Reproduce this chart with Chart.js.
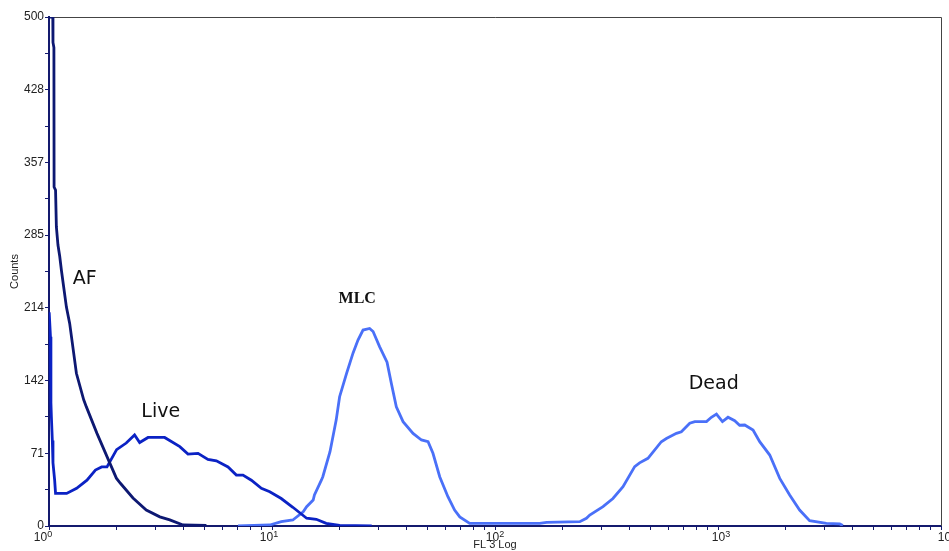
<!DOCTYPE html>
<html>
<head>
<meta charset="utf-8">
<script src="https://cdn.jsdelivr.net/npm/chart.js@4/dist/chart.umd.min.js"></script>
<style>
  html, body { margin: 0; padding: 0; background: #fff; }
  #wrap { width: 949px; height: 551px; }
</style>
</head>
<body>
<div id="wrap"><canvas id="histo"></canvas></div>
<script>
// FL3 log histogram values
const afX = [1.0, 1.04, 1.042, 1.052, 1.054, 1.07, 1.079, 1.097, 1.117, 1.137, 1.197, 1.238, 1.327, 1.431, 1.471, 1.641, 1.872, 2.005, 2.09, 2.38, 2.73, 3.14, 3.48, 3.99, 5.08];
const afY = [500, 500, 475, 470, 333, 330, 294, 276, 265, 251, 215, 199, 150, 124, 117, 91, 62, 47, 42, 27.5, 15.7, 9, 6, 1, 0.5];

const liveX = [1.002, 1.015, 1.02, 1.025, 1.035, 1.042, 1.06, 1.07, 1.2, 1.33, 1.48, 1.615, 1.723, 1.82, 2.01, 2.22, 2.42, 2.55, 2.78, 3.3, 3.86, 4.2, 4.66, 5.16, 5.63, 6.35, 6.92, 7.41, 8.08, 8.96, 9.77, 11.0, 12.4, 14.3, 15.8, 17.5, 20.1, 28];
const liveY = [210, 186, 121, 107, 84, 62, 45, 32, 32, 37, 45, 55, 58, 58, 75, 81.5, 89.4, 82, 87, 87, 78, 70.7, 71.4, 65.5, 64, 58, 50, 50, 45, 37, 33.7, 27, 18.4, 7.6, 6.6, 2.6, 0.5, 0];

const mlcX = [7.04, 9.77, 11.0, 12.4, 13.8, 14.3, 15.3, 15.5, 16.65, 16.9, 18.2, 19.4, 20.1, 21.6, 23.1, 24.3, 25.6, 27.4, 28.4, 30.4, 32.8, 34.3, 36.1, 38.7, 42.9, 46.8, 50.1, 52.7, 56.5, 61.5, 65.9, 69.5, 77.0];
const mlcY = [0, 1, 4.2, 5.9, 14, 19, 25.5, 30.5, 45, 48.4, 73, 104, 127, 150, 170, 182.7, 192.5, 194, 191, 176, 161, 140, 117, 102.5, 91, 84.5, 82.8, 71.4, 48.4, 28.8, 15.7, 9, 2.6];

const deadX = [158.5, 170.5, 240, 257, 266, 305, 338, 375, 423, 445, 485, 557, 587, 651, 685, 747, 787, 888, 934, 984, 1047, 1109, 1188, 1250, 1318, 1436, 1538, 1706, 1892, 2096, 2323, 2576, 3063, 3514, 3630];
const deadY = [2.6, 3.5, 4.2, 7.6, 10.8, 19, 27, 38.6, 58.3, 62, 66.5, 82.8, 86, 91, 92.6, 101, 102.5, 102.5, 106.8, 110, 102.5, 106.8, 103.4, 99, 99.2, 94.3, 82.8, 69.7, 46.8, 30.5, 15.7, 5.2, 2.6, 2, 0.5];

const yTickLabels = ["0", "71", "142", "214", "285", "357", "428", "500"];
const xTickExponents = ["0", "1", "2", "3", "4"];

const peakNames = ["AF", "Live", "MLC", "Dead"];
const peakNameX = [1.446, 3.17, 24.1, 957];
const peakNameY = [242.6, 111.5, 223.5, 139.5];

const axisColor = "#141a6e";

function toPoints(xs, ys) {
  return xs.map((x, i) => ({ x: x, y: ys[i] }));
}

// thin frame on top and right, decade labels with superscripts, peak names
const framePlugin = {
  id: "frame",
  beforeDatasetsDraw(chart) {
    const { ctx, chartArea } = chart;
    ctx.save();
    ctx.strokeStyle = "#444";
    ctx.lineWidth = 1;
    ctx.beginPath();
    ctx.moveTo(chartArea.left, chartArea.top + 0.5);
    ctx.lineTo(chartArea.right + 0.5, chartArea.top + 0.5);
    ctx.lineTo(chartArea.right + 0.5, chartArea.bottom);
    ctx.stroke();
    ctx.restore();
  },
  afterDatasetsDraw(chart) {
    const { ctx, scales, chartArea } = chart;
    ctx.save();
    ctx.fillStyle = "#111";
    ctx.textAlign = "center";
    ctx.textBaseline = "middle";
    peakNames.forEach((name, i) => {
      ctx.font = name === "MLC" ? "bold 16px 'Liberation Serif'" : "19px 'DejaVu Sans'";
      ctx.fillText(name, scales.x.getPixelForValue(peakNameX[i]), scales.y.getPixelForValue(peakNameY[i]));
    });

    // x decade labels: 10 with a raised exponent
    ctx.fillStyle = "#222";
    ctx.textAlign = "left";
    ctx.textBaseline = "alphabetic";
    const base = chartArea.bottom + 15;
    xTickExponents.forEach((e, i) => {
      ctx.font = "12px 'Liberation Sans', Arial";
      const w10 = ctx.measureText("10").width;
      ctx.font = "9px 'Liberation Sans', Arial";
      const wE = ctx.measureText(e).width;
      const cx = scales.x.getPixelForValue(Math.pow(10, i)) + (i - 2) * 3;
      const left = cx - (w10 + wE) / 2;
      ctx.font = "12px 'Liberation Sans', Arial";
      ctx.fillText("10", left, base);
      ctx.font = "9px 'Liberation Sans', Arial";
      ctx.fillText(e, left + w10, base - 4);
    });

    ctx.font = "11px 'Liberation Sans', Arial";
    ctx.textAlign = "center";
    ctx.fillText("FL 3 Log", (chartArea.left + chartArea.right) / 2, chartArea.bottom + 22);
    ctx.restore();
  },
};

const ctx = document.getElementById("histo").getContext("2d");
new Chart(ctx, {
  type: "line",
  data: {
    datasets: [
      {
        label: "AF",
        data: toPoints(afX, afY),
        borderColor: "#0d1872",
        borderWidth: 2.8,
      },
      {
        label: "Live",
        data: toPoints(liveX, liveY),
        borderColor: "#0b22c4",
        borderWidth: 2.8,
      },
      {
        label: "MLC / Dead",
        data: toPoints(mlcX.concat(deadX), mlcY.concat(deadY)),
        borderColor: "#4a70f8",
        borderWidth: 2.8,
      },
    ],
  },
  options: {
    responsive: true,
    maintainAspectRatio: false,
    animation: false,
    layout: { padding: { left: 0, top: 17, right: 8, bottom: 0 } },
    elements: {
      point: { radius: 0 },
      line: { tension: 0 },
    },
    plugins: {
      legend: { display: false },
      tooltip: { enabled: false },
    },
    scales: {
      x: {
        type: "logarithmic",
        min: 1,
        max: 10000,
        afterBuildTicks(scale) {
          const ticks = [];
          for (let d = 0; d < 4; d++) {
            for (let m = 1; m < 10; m++) ticks.push({ value: m * Math.pow(10, d) });
          }
          ticks.push({ value: 10000 });
          scale.ticks = ticks;
        },
        afterFit(scale) {
          scale.height = 25;
          scale.paddingLeft = 0;
          scale.paddingRight = 0;
        },
        ticks: {
          autoSkip: false,
          maxRotation: 0,
          callback: () => "",
        },
        grid: {
          drawOnChartArea: false,
          color: axisColor,
          tickLength: 4,
        },
        border: { color: axisColor, width: 2 },
      },
      y: {
        min: 0,
        max: 500,
        afterBuildTicks(scale) {
          const ticks = [];
          for (let k = 0; k <= 14; k++) ticks.push({ value: (k * 500) / 14 });
          scale.ticks = ticks;
        },
        afterFit(scale) {
          scale.width = 49;
        },
        ticks: {
          autoSkip: false,
          padding: 1,
          color: "#222",
          font: { family: "'Liberation Sans', Arial", size: 12 },
          callback: function (value, index) {
            return index % 2 === 0 ? yTickLabels[index / 2] : "";
          },
        },
        grid: {
          drawOnChartArea: false,
          color: axisColor,
          tickLength: 4,
        },
        border: { color: axisColor, width: 2 },
        title: {
          display: true,
          text: "Counts",
          color: "#222",
          font: { family: "'Liberation Sans', Arial", size: 11 },
          padding: { top: 8, bottom: 0 },
        },
      },
    },
  },
  plugins: [framePlugin],
});
</script>
</body>
</html>
